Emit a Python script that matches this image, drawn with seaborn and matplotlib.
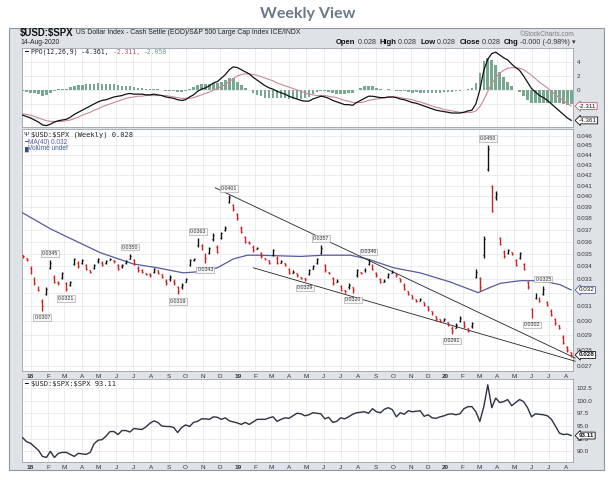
import numpy as np
import pandas as pd
import matplotlib
matplotlib.use('Agg')
import matplotlib.pyplot as plt
import matplotlib.dates as mdates
from matplotlib.patches import Rectangle
from matplotlib.ticker import FixedLocator, NullLocator
import seaborn as sns

W, H = 615, 480

# ---------------------------------------------------------
# data (weekly bars, Monday of each week)
# ---------------------------------------------------------
first_week = '2017-12-18'
n_weeks = 139

opens = [0.0349, 0.0347, 0.0339, 0.0331, 0.0324, 0.0314, 0.0319, 0.0339, 0.0332, 0.0328,
         0.0331, 0.0327, 0.0326, 0.0342, 0.0343, 0.0343, 0.0341, 0.0337, 0.0339, 0.0344,
         0.0343, 0.0343, 0.0345, 0.0345, 0.0341, 0.0340, 0.0343, 0.0346, 0.0345, 0.0339,
         0.0337, 0.0335, 0.0334, 0.0336, 0.0337, 0.0334, 0.0329, 0.0330, 0.0329, 0.0324,
         0.0324, 0.0328, 0.0341, 0.0345, 0.0357, 0.0357, 0.0350, 0.0351, 0.0362, 0.0356,
         0.0363, 0.0370, 0.0395, 0.0392, 0.0384, 0.0372, 0.0364, 0.0360, 0.0356, 0.0354,
         0.0351, 0.0347, 0.0345, 0.0349, 0.0347, 0.0343, 0.0343, 0.0338, 0.0335, 0.0335,
         0.0332, 0.0331, 0.0334, 0.0338, 0.0343, 0.0351, 0.0341, 0.0336, 0.0331, 0.0328,
         0.0325, 0.0322, 0.0324, 0.0324, 0.0333, 0.0336, 0.0337, 0.0342, 0.0341, 0.0335,
         0.0330, 0.0328, 0.0332, 0.0335, 0.0335, 0.0331, 0.0326, 0.0321, 0.0318, 0.0315,
         0.0314, 0.0313, 0.0310, 0.0307, 0.0303, 0.0301, 0.0300, 0.0299, 0.0295, 0.0295,
         0.0300, 0.0299, 0.0295, 0.0296, 0.0332, 0.0331, 0.0349, 0.0426, 0.0410, 0.0399,
         0.0363, 0.0352, 0.0351, 0.0352, 0.0345, 0.0347, 0.0342, 0.0328, 0.0308, 0.0316,
         0.0317, 0.0319, 0.0313, 0.0307, 0.0301, 0.0297, 0.0289, 0.0282, 0.0279]
highs = [0.0349, 0.0347, 0.0340, 0.0332, 0.0325, 0.0315, 0.0324, 0.0345, 0.0333, 0.0329,
         0.0336, 0.0328, 0.0329, 0.0347, 0.0344, 0.0346, 0.0342, 0.0337, 0.0342, 0.0347,
         0.0344, 0.0345, 0.0347, 0.0345, 0.0342, 0.0342, 0.0345, 0.0350, 0.0346, 0.0340,
         0.0338, 0.0335, 0.0335, 0.0339, 0.0337, 0.0334, 0.0330, 0.0333, 0.0330, 0.0325,
         0.0327, 0.0331, 0.0346, 0.0347, 0.0363, 0.0358, 0.0351, 0.0356, 0.0367, 0.0357,
         0.0368, 0.0373, 0.0401, 0.0393, 0.0385, 0.0373, 0.0365, 0.0361, 0.0357, 0.0356,
         0.0352, 0.0347, 0.0345, 0.0354, 0.0348, 0.0345, 0.0343, 0.0339, 0.0337, 0.0335,
         0.0332, 0.0331, 0.0338, 0.0341, 0.0347, 0.0357, 0.0342, 0.0336, 0.0332, 0.0330,
         0.0326, 0.0322, 0.0327, 0.0324, 0.0338, 0.0336, 0.0339, 0.0346, 0.0342, 0.0336,
         0.0331, 0.0330, 0.0335, 0.0337, 0.0335, 0.0331, 0.0327, 0.0321, 0.0318, 0.0315,
         0.0316, 0.0313, 0.0310, 0.0307, 0.0303, 0.0301, 0.0302, 0.0299, 0.0296, 0.0298,
         0.0303, 0.0300, 0.0295, 0.0299, 0.0338, 0.0332, 0.0365, 0.0450, 0.0411, 0.0405,
         0.0364, 0.0353, 0.0354, 0.0352, 0.0346, 0.0352, 0.0343, 0.0329, 0.0309, 0.0320,
         0.0317, 0.0325, 0.0314, 0.0308, 0.0302, 0.0297, 0.0290, 0.0283, 0.0279]
lows = [0.0347, 0.0344, 0.0334, 0.0326, 0.0321, 0.0307, 0.0318, 0.0338, 0.0327, 0.0326,
        0.0330, 0.0321, 0.0325, 0.0341, 0.0339, 0.0342, 0.0337, 0.0335, 0.0338, 0.0343,
        0.0340, 0.0342, 0.0345, 0.0343, 0.0337, 0.0339, 0.0342, 0.0346, 0.0341, 0.0336,
        0.0335, 0.0333, 0.0332, 0.0335, 0.0334, 0.0331, 0.0326, 0.0329, 0.0326, 0.0319,
        0.0323, 0.0328, 0.0340, 0.0344, 0.0356, 0.0353, 0.0343, 0.0350, 0.0361, 0.0351,
        0.0362, 0.0369, 0.0394, 0.0387, 0.0379, 0.0367, 0.0359, 0.0358, 0.0352, 0.0354,
        0.0347, 0.0345, 0.0342, 0.0348, 0.0342, 0.0343, 0.0340, 0.0334, 0.0335, 0.0332,
        0.0330, 0.0329, 0.0333, 0.0338, 0.0342, 0.0350, 0.0336, 0.0334, 0.0326, 0.0328,
        0.0321, 0.0320, 0.0323, 0.0320, 0.0332, 0.0334, 0.0336, 0.0341, 0.0337, 0.0332,
        0.0327, 0.0328, 0.0331, 0.0335, 0.0332, 0.0328, 0.0322, 0.0318, 0.0315, 0.0313,
        0.0314, 0.0310, 0.0307, 0.0304, 0.0300, 0.0299, 0.0300, 0.0296, 0.0291, 0.0295,
        0.0299, 0.0295, 0.0292, 0.0295, 0.0331, 0.0321, 0.0347, 0.0424, 0.0386, 0.0397,
        0.0357, 0.0347, 0.0350, 0.0349, 0.0340, 0.0346, 0.0337, 0.0323, 0.0302, 0.0315,
        0.0313, 0.0318, 0.0310, 0.0303, 0.0297, 0.0294, 0.0284, 0.0279, 0.0276]
closes = [0.0348, 0.0345, 0.0335, 0.0327, 0.0322, 0.0310, 0.0323, 0.0343, 0.0328, 0.0327,
          0.0335, 0.0323, 0.0328, 0.0346, 0.0340, 0.0345, 0.0338, 0.0336, 0.0341, 0.0346,
          0.0341, 0.0344, 0.0346, 0.0344, 0.0338, 0.0341, 0.0344, 0.0348, 0.0342, 0.0337,
          0.0336, 0.0334, 0.0333, 0.0338, 0.0335, 0.0332, 0.0327, 0.0332, 0.0327, 0.0321,
          0.0326, 0.0330, 0.0345, 0.0346, 0.0361, 0.0354, 0.0347, 0.0355, 0.0366, 0.0352,
          0.0367, 0.0372, 0.0399, 0.0388, 0.0380, 0.0368, 0.0360, 0.0359, 0.0353, 0.0355,
          0.0348, 0.0346, 0.0343, 0.0353, 0.0343, 0.0344, 0.0341, 0.0335, 0.0336, 0.0333,
          0.0331, 0.0330, 0.0337, 0.0340, 0.0346, 0.0355, 0.0337, 0.0335, 0.0327, 0.0329,
          0.0322, 0.0321, 0.0326, 0.0322, 0.0337, 0.0335, 0.0338, 0.0345, 0.0338, 0.0333,
          0.0328, 0.0329, 0.0334, 0.0336, 0.0333, 0.0329, 0.0323, 0.0319, 0.0316, 0.0314,
          0.0315, 0.0311, 0.0308, 0.0305, 0.0301, 0.0300, 0.0301, 0.0297, 0.0293, 0.0297,
          0.0302, 0.0296, 0.0293, 0.0298, 0.0336, 0.0324, 0.0362, 0.0446, 0.0387, 0.0402,
          0.0358, 0.0348, 0.0353, 0.0350, 0.0341, 0.0351, 0.0338, 0.0324, 0.0304, 0.0319,
          0.0314, 0.0323, 0.0311, 0.0304, 0.0298, 0.0295, 0.0285, 0.0280, 0.0277]

ppo_line = [-3.6, -3.8, -4.0, -4.3, -4.6, -5.0, -5.1, -4.9, -4.6, -4.4,
            -4.3, -4.2, -3.9, -3.5, -3.2, -2.9, -2.6, -2.3, -2.0, -1.7,
            -1.5, -1.4, -1.2, -1.0, -0.9, -0.8, -0.6, -0.5, -0.6, -0.6,
            -0.6, -0.7, -0.7, -0.6, -0.7, -0.8, -1.0, -1.1, -1.2, -1.4,
            -1.5, -1.4, -1.0, -0.7, -0.2, 0.1, 0.3, 0.6, 1.0, 1.2,
            1.7, 2.2, 2.9, 3.3, 3.2, 2.9, 2.6, 2.3, 1.8, 1.4,
            1.0, 0.6, 0.3, 0.1, -0.2, -0.4, -0.6, -0.9, -1.1, -1.3,
            -1.5, -1.6, -1.6, -1.3, -1.1, -0.9, -1.0, -1.2, -1.5, -1.7,
            -1.9, -2.1, -2.1, -2.2, -1.8, -1.5, -1.2, -0.9, -0.9, -1.0,
            -1.1, -1.1, -1.0, -1.0, -1.1, -1.3, -1.4, -1.6, -1.8, -1.9,
            -2.1, -2.3, -2.5, -2.7, -2.9, -3.0, -3.1, -3.2, -3.3, -3.3,
            -3.3, -3.2, -3.0, -2.9, -2.0, 0.0, 2.8, 4.4, 5.2, 5.4,
            5.0, 4.6, 4.3, 3.7, 3.2, 2.8, 2.0, 1.1, 0.2, -0.3,
            -0.8, -1.1, -1.5, -2.0, -2.5, -3.0, -3.5, -4.0, -4.361]
ppo_signal = [-3.4, -3.5, -3.6, -3.8, -4.0, -4.2, -4.4, -4.5, -4.5, -4.5,
              -4.5, -4.4, -4.3, -4.1, -3.9, -3.6, -3.4, -3.2, -2.9, -2.7,
              -2.4, -2.2, -2.0, -1.8, -1.6, -1.4, -1.2, -1.1, -1.0, -0.9,
              -0.9, -0.8, -0.8, -0.8, -0.8, -0.8, -0.8, -0.9, -1.0, -1.1,
              -1.2, -1.2, -1.2, -1.1, -0.9, -0.7, -0.5, -0.3, 0.0, 0.2,
              0.5, 0.8, 1.2, 1.6, 2.0, 2.2, 2.3, 2.3, 2.2, 2.1,
              1.9, 1.7, 1.5, 1.3, 1.0, 0.8, 0.6, 0.4, 0.2, 0.0,
              -0.2, -0.4, -0.6, -0.7, -0.8, -0.8, -0.8, -0.9, -1.0, -1.1,
              -1.3, -1.5, -1.6, -1.8, -1.8, -1.8, -1.7, -1.5, -1.4, -1.3,
              -1.2, -1.1, -1.1, -1.0, -1.0, -1.1, -1.2, -1.3, -1.4, -1.6,
              -1.7, -1.9, -2.1, -2.3, -2.5, -2.6, -2.8, -2.9, -3.0, -3.1,
              -3.2, -3.2, -3.2, -3.2, -3.0, -2.4, -1.4, -0.2, 0.9, 1.8,
              2.4, 2.8, 3.1, 3.2, 3.2, 3.1, 2.9, 2.5, 2.1, 1.6,
              1.1, 0.7, 0.3, -0.2, -0.7, -1.1, -1.5, -1.9, -2.311]

usd_index = [92.7, 91.9, 91.6, 90.9, 90.2, 89.0, 88.8, 90.0, 88.8, 89.6,
             89.8, 89.8, 89.4, 89.0, 89.6, 89.5, 89.4, 89.8, 91.5, 92.2,
             92.3, 93.0, 93.9, 93.9, 93.3, 94.1, 94.1, 93.8, 94.5, 94.4,
             94.3, 94.8, 95.5, 96.0, 95.7, 95.0, 94.9, 94.9, 94.7, 93.7,
             94.7, 95.2, 94.9, 95.7, 95.9, 96.4, 96.4, 96.3, 96.8, 96.7,
             96.3, 96.6, 96.0, 95.8, 95.6, 95.3, 95.7, 95.3, 95.8, 96.3,
             96.3, 96.3, 96.6, 96.8, 95.9, 96.3, 96.6, 96.5, 97.0, 97.5,
             97.4, 97.0, 97.2, 97.6, 97.5, 97.4, 96.4, 96.7, 95.7, 95.9,
             96.6, 96.4, 96.8, 97.3, 97.6, 97.7, 97.8, 97.5, 98.4, 97.8,
             97.6, 98.3, 98.6, 98.2, 96.8, 97.6, 97.3, 98.0, 97.8, 97.9,
             98.0, 96.9, 97.2, 96.6, 96.5, 96.8, 97.0, 97.3, 97.4, 97.2,
             97.4, 98.4, 98.8, 98.8, 97.8, 95.9, 98.8, 103.1, 98.6, 100.5,
             99.6, 99.8, 100.2, 99.0, 99.6, 100.2, 99.8, 98.6, 96.8, 97.4,
             97.3, 97.2, 97.0, 96.3, 95.0, 93.6, 93.3, 93.4, 93.11]

ma_dates = ['2017-12-18', '2018-02-05', '2018-03-07', '2018-05-04', '2018-07-01',
            '2018-08-12', '2018-09-27', '2018-10-27', '2018-11-26', '2018-12-24',
            '2019-01-18', '2019-02-07', '2019-04-21', '2019-05-31', '2019-07-18',
            '2019-08-17', '2019-10-02', '2019-11-18', '2020-01-10', '2020-02-28',
            '2020-03-15', '2020-04-07', '2020-05-12', '2020-06-04', '2020-06-29',
            '2020-07-21', '2020-08-10']
ma_values = [0.0385, 0.0371, 0.0364, 0.0351, 0.0342, 0.0339, 0.0335, 0.0336, 0.0339,
             0.0346, 0.0349, 0.0349, 0.0348, 0.0349, 0.0349, 0.0346, 0.0339, 0.0335,
             0.0328, 0.0320, 0.0323, 0.0327, 0.0329, 0.0329, 0.0328, 0.0326, 0.0322]

# price flags drawn on the chart
label_weeks = [5, 7, 11, 27, 39, 44, 46, 52, 71, 75, 83, 87, 108, 117, 128, 131]
label_values = [0.0307, 0.0345, 0.0321, 0.0350, 0.0319, 0.0363, 0.0343, 0.0401,
                0.0329, 0.0357, 0.0320, 0.0346, 0.0291, 0.0450, 0.0302, 0.0325]
label_sides = ['low', 'high', 'low', 'high', 'low', 'high', 'low', 'high',
               'low', 'high', 'low', 'high', 'low', 'high', 'low', 'high']

# hand drawn trendlines
trend_dates = [['2018-11-22', '2020-08-17'], ['2019-01-28', '2020-08-17']]
trend_values = [[0.0408, 0.0275], [0.0339, 0.0273]]

month_labels = ['18', 'F', 'M', 'A', 'M', 'J', 'J', 'A', 'S', 'O', 'N', 'D',
                '19', 'F', 'M', 'A', 'M', 'J', 'J', 'A', 'S', 'O', 'N', 'D',
                '20', 'F', 'M', 'A', 'M', 'J', 'J', 'A']
main_ticks = [0.027, 0.028, 0.029, 0.030, 0.031, 0.032, 0.033, 0.034, 0.035, 0.036,
              0.037, 0.038, 0.039, 0.040, 0.041, 0.042, 0.043, 0.044, 0.045, 0.046]
# 0.032 sits under the MA(40) value tag
main_tick_labels = ['0.027', '0.028', '0.029', '0.030', '0.031', '', '0.033', '0.034',
                    '0.035', '0.036', '0.037', '0.038', '0.039', '0.040', '0.041', '0.042',
                    '0.043', '0.044', '0.045', '0.046']
ppo_ticks = [-4, -2, 0, 2, 4]
ppo_tick_labels = ['', '', '0', '2', '4']
usd_ticks = [90, 92.5, 95, 97.5, 100, 102.5]
usd_tick_labels = ['90.0', '92.5', '95.0', '97.5', '100.0', '102.5']

# ---------------------------------------------------------
# style
# ---------------------------------------------------------
sns.set_theme(style='white')
plt.rcParams['font.family'] = ['Liberation Sans', 'DejaVu Sans']
plt.rcParams['axes.unicode_minus'] = False

RED = '#cc2222'
GRID = '#e3e6ea'
SPINE = '#9aa2ab'
MA_COL = '#565a9e'
SIG_COL = '#c98894'
HIST_COL = '#78a892'
MONO = ['DejaVu Sans Mono']

fig = plt.figure(figsize=(W / 100, H / 100), dpi=100)
fig.patch.set_facecolor('white')


def px_box(x0, y0, x1, y1):
    return [x0 / W, 1 - y1 / H, (x1 - x0) / W, (y1 - y0) / H]


fig.patches.append(Rectangle((9 / W, 1 - 470 / H), 595 / W, 442 / H,
                             transform=fig.transFigure, fc='#dfe3e8',
                             ec='#8d97a1', lw=0.8, zorder=-10))

ax_ppo = fig.add_axes(px_box(22, 48, 573, 127))
ax_main = fig.add_axes(px_box(22, 129, 573, 371))
ax_usd = fig.add_axes(px_box(22, 379, 573, 462))

weeks = pd.date_range(first_week, periods=n_weeks, freq='7D')
xw = mdates.date2num(weeks.to_pydatetime())
month_x = mdates.date2num(pd.date_range('2018-01-01', periods=len(month_labels), freq='MS').to_pydatetime())
x_left = mdates.date2num(pd.Timestamp('2017-12-17'))
x_right = mdates.date2num(pd.Timestamp('2020-08-13'))

for ax in (ax_ppo, ax_main, ax_usd):
    ax.set_zorder(2)
    ax.set_facecolor('white')
    ax.set_xlim(x_left, x_right)
    ax.xaxis.set_major_locator(FixedLocator(month_x))
    ax.xaxis.set_minor_locator(NullLocator())
    ax.yaxis.tick_right()
    ax.grid(True, color=GRID, lw=0.5)
    ax.set_axisbelow(True)
    ax.tick_params(axis='both', length=0, labelsize=4.5, colors='#333333', pad=2.5)
    for sp in ax.spines.values():
        sp.set_color(SPINE)
        sp.set_linewidth(0.6)

# ---------------------------------------------------------
# PPO panel
# ---------------------------------------------------------
hist = np.array(ppo_line) - np.array(ppo_signal)
ax_ppo.bar(xw, hist, width=4.6, color=HIST_COL, lw=0, zorder=2)
sns.lineplot(x=xw, y=ppo_signal, ax=ax_ppo, color=SIG_COL, lw=0.8, zorder=3)
sns.lineplot(x=xw, y=ppo_line, ax=ax_ppo, color='#111111', lw=0.9, zorder=4)
ax_ppo.set_ylim(-5.3, 6.0)
ax_ppo.set_yticks(ppo_ticks)
ax_ppo.set_yticklabels(ppo_tick_labels)
ax_ppo.set_xticklabels([])
ax_ppo.set_xlabel('')
ax_ppo.set_ylabel('')

# ---------------------------------------------------------
# price panel
# ---------------------------------------------------------
prev_close = [opens[0]] + closes[:-1]
bar_cols = [RED if c < p else '#111111' for c, p in zip(closes, prev_close)]
ax_main.vlines(xw, lows, highs, colors=bar_cols, lw=1.0, zorder=4)
ax_main.hlines(opens, xw - 1.7, xw, colors=bar_cols, lw=0.9, zorder=4)
ax_main.hlines(closes, xw, xw + 1.7, colors=bar_cols, lw=0.9, zorder=4)

ma_x = mdates.date2num(pd.to_datetime(ma_dates).to_pydatetime())
sns.lineplot(x=ma_x, y=ma_values, ax=ax_main, color=MA_COL, lw=0.9, zorder=3)

for td, tv in zip(trend_dates, trend_values):
    tx = mdates.date2num(pd.to_datetime(td).to_pydatetime())
    ax_main.plot(tx, tv, color='#222222', lw=0.6, zorder=3, clip_on=False)

ax_main.set_yscale('log')
ax_main.set_ylim(0.02669, 0.04675)
ax_main.yaxis.set_major_locator(FixedLocator(main_ticks))
ax_main.yaxis.set_minor_locator(NullLocator())
ax_main.set_yticklabels(main_tick_labels)
ax_main.set_xticklabels(month_labels)
ax_main.set_xlabel('')
ax_main.set_ylabel('')

for i, v, side in zip(label_weeks, label_values, label_sides):
    dy = 5.0 if side == 'high' else -5.2
    ax_main.annotate(f'{v:.4f}', xy=(xw[i], v), xytext=(0, dy), textcoords='offset points',
                     ha='center', va='center', fontsize=3.8, color='#333333', zorder=6,
                     bbox=dict(boxstyle='square,pad=0.15', fc='#f6f6f6', ec='#9a9a9a', lw=0.4))

# ---------------------------------------------------------
# USD panel
# ---------------------------------------------------------
sns.lineplot(x=xw, y=usd_index, ax=ax_usd, color='#2e3040', lw=1.0, zorder=3)
ax_usd.set_ylim(87.9, 104.25)
ax_usd.set_yticks(usd_ticks)
ax_usd.set_yticklabels(usd_tick_labels)
ax_usd.set_xticklabels(month_labels)
ax_usd.set_xlabel('')
ax_usd.set_ylabel('')

for ax in (ax_main, ax_usd):
    for t in ax.get_xticklabels():
        t.set_fontsize(4.6)
        if t.get_text() in ('18', '19', '20'):
            t.set_fontweight('bold')


# last value tags on the right
def value_tag(ax, val, text, ec, weight='normal'):
    ax.annotate(text, xy=(1, val), xycoords=ax.get_yaxis_transform(),
                xytext=(4.2, 0), textcoords='offset points', ha='left', va='center',
                fontsize=4.5, fontweight=weight, color='#111111', annotation_clip=False,
                zorder=10, bbox=dict(boxstyle='larrow,pad=0.15', fc='white', ec=ec, lw=0.6))


value_tag(ax_main, closes[-1], '0.028', '#111111', 'bold')
value_tag(ax_main, ma_values[-1], '0.032', MA_COL)
value_tag(ax_ppo, ppo_signal[-1], '-2.311', '#b5606f')
value_tag(ax_ppo, ppo_line[-1], '-4.361', '#111111')
value_tag(ax_usd, usd_index[-1], '93.11', '#111111', 'bold')

# ---------------------------------------------------------
# texts
# ---------------------------------------------------------
renderer = fig.canvas.get_renderer()


def rich_line(x_px, y_px, parts, align='left'):
    items = []
    for s, kw in parts:
        items.append(fig.text(0, 1 - y_px / H, s, va='center', ha='left', parse_math=False,
                              zorder=5, **kw))
    widths = [t.get_window_extent(renderer).width for t in items]
    x = x_px if align == 'left' else x_px - sum(widths)
    for t, w in zip(items, widths):
        t.set_x(x / W)
        x += w


fig.text(0.5, 1 - 14 / H, 'Weekly View', ha='center', va='center', fontsize=11.5,
         fontweight='bold', color='#6b7886', family=['Lato', 'DejaVu Sans'])

rich_line(20, 33, [('$USD:$SPX', dict(fontsize=6.9, fontweight='bold', color='#111111')),
                   (' US Dollar Index - Cash Settle (EOD)/S&P 500 Large Cap Index ICE/INDX',
                    dict(fontsize=4.95, color='#222222'))])
rich_line(20, 42, [('14-Aug-2020', dict(fontsize=4.9, color='#222222'))])
rich_line(575, 35, [('©StockCharts.com', dict(fontsize=4.7, color='#7a7a7a'))], align='right')

B = dict(fontsize=5.5, fontweight='bold', color='#111111')
N = dict(fontsize=5.1, color='#333333')
rich_line(576, 43, [('Open', B), (' 0.028  ', N), ('High', B), (' 0.028  ', N),
                    ('Low', B), (' 0.028  ', N), ('Close', B), (' 0.028  ', N),
                    ('Chg', B), (' -0.000 (-0.98%) ', N), ('▾', N)], align='right')

# panel legends are drawn on top of the axes
for x_px, y_px, parts in [
    (24, 52, [('━ ', dict(fontsize=4.5, color='#111111', family=MONO)),
              ('PPO(12,26,9) -4.361, ', dict(fontsize=4.7, color='#222222', family=MONO)),
              ('-2.311, ', dict(fontsize=4.7, color='#c0506a', family=MONO)),
              ('-2.050', dict(fontsize=4.7, color='#6a9f87', family=MONO))]),
    (24, 135, [('Ψ ', dict(fontsize=4.6, color='#222222')),
               ('$USD:$SPX (Weekly) 0.028', dict(fontsize=5.0, color='#222222', family=MONO))]),
    (24, 142, [('━', dict(fontsize=4.5, color=MA_COL, family=MONO)),
               ('MA(40) 0.032', dict(fontsize=4.7, color=MA_COL))]),
    (24, 149, [('▆', dict(fontsize=4.2, color='#3a4a80', family=MONO)),
               ('Volume undef', dict(fontsize=4.7, color='#3a5a9a'))]),
    (24, 384, [('━ ', dict(fontsize=4.5, color='#111111', family=MONO)),
               ('$USD:$SPX:$SPX 93.11', dict(fontsize=5.1, color='#222222', family=MONO))]),
]:
    rich_line(x_px, y_px, parts)

fig.savefig('out.png', dpi=100)
